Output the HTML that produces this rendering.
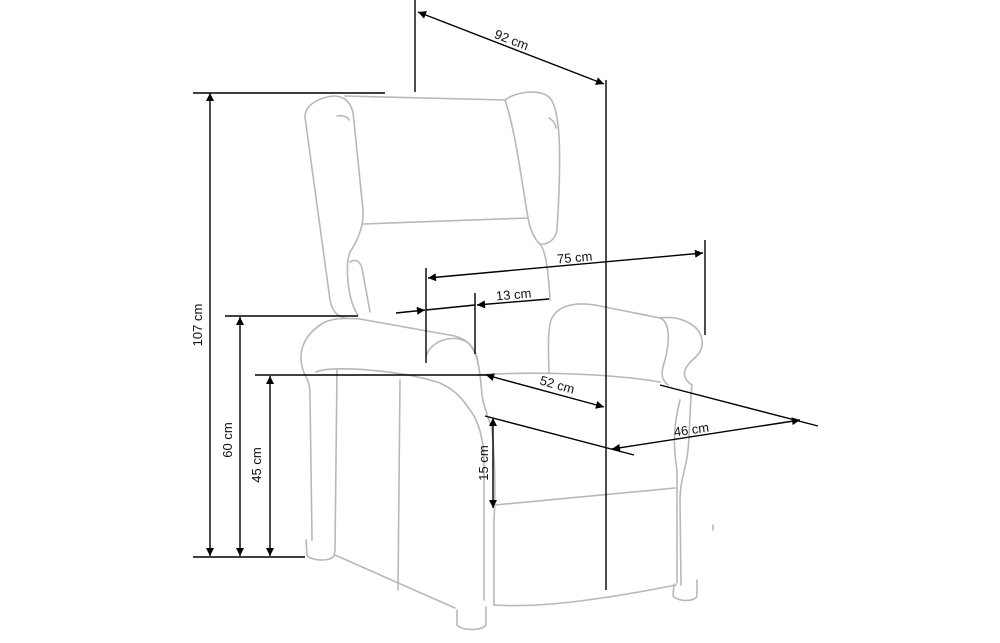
<!DOCTYPE html>
<html><head><style>
html,body{margin:0;padding:0;background:#fff;}
svg{display:block;}
text{font-family:"Liberation Sans",sans-serif;font-size:13px;fill:#111;}
</style></head><body>
<svg width="1000" height="643" viewBox="0 0 1000 643" xmlns="http://www.w3.org/2000/svg">
<defs>
<marker id="a" viewBox="0 0 10 10" refX="10" refY="5" markerWidth="11" markerHeight="8" orient="auto-start-reverse" markerUnits="userSpaceOnUse">
<path d="M0,0 L10,5 L0,10 z" fill="#000"/></marker>
</defs>
<g fill="none" stroke="#b8b8b8" stroke-width="1.6" stroke-linecap="round" stroke-linejoin="round">
<path d="M333,96 C318,98 305,105 305,117 L330,300 C332,310 336,316 345,318"/>
<path d="M333,96 C345,96 350,102 353,112 L363,210 C364,225 358,240 350,252 C345,262 347,300 358,315"/>
<path d="M345,96 L505,100"/>
<path d="M337,116 C343,115 348,117 349,120"/>
<path d="M350,262 C356,258 360,262 362,268 L370,312"/>
<path d="M505,100 C515,92 540,88 550,98 C560,110 562,150 557,230 C555,240 548,245 540,244"/>
<path d="M505,100 C515,130 520,170 528,218 C530,230 535,240 540,244 C545,250 548,265 550,300"/>
<path d="M549,118 C552,120 555,122 556,128"/>
<path d="M363,224 L528,218"/>
<path d="M305,375 C296,355 302,335 325,322 C335,318 345,318 360,319 L455,336 C470,340 478,352 478,365"/>
<path d="M305,375 C308,380 310,385 310,395 L312,540"/>
<path d="M426,357 C430,340 455,333 468,343 C478,352 480,370 482,395 C484,410 490,420 492,430 C494,450 496,480 494,520 L494,605"/>
<path d="M316,372 C330,365 400,370 440,383 C455,390 462,398 470,410 C478,420 484,440 484,460 L484,600"/>
<path d="M337,370 L335,550"/>
<path d="M400,380 L398,590"/>
<path d="M552,318 C560,303 580,302 600,306 L660,318"/>
<path d="M660,318 C680,315 700,325 702,340 C704,355 690,360 688,365 C682,372 684,380 692,385"/>
<path d="M660,318 C670,322 670,340 665,360 C660,375 662,380 668,385"/>
<path d="M552,318 C548,325 548,345 549,372"/>
<path d="M692,385 C690,400 690,430 688,450 C686,470 680,480 680,500 L681,585"/>
<path d="M680,400 C675,420 672,440 677,470 L677,583"/>
<path d="M478,375 C520,372 600,372 660,382"/>
<path d="M495,505 L675,488"/>
<path d="M494,605 C540,608 600,600 676,585"/>
<path d="M335,555 L455,608"/>
<path d="M306,540 L307,555 C310,561 330,562 334,556 L335,550"/>
<path d="M457,610 L457,625 C462,631 482,631 486,625 L486,607"/>
<path d="M674,584 L673,596 C678,602 695,602 697,596 L697,580"/>
<path d="M713,525 L713,530"/>
</g>
<g stroke="#000" stroke-width="1.4" fill="none">
<line x1="415" y1="0" x2="415" y2="92"/>
<line x1="606" y1="80" x2="606" y2="590"/>
<line x1="418" y1="12" x2="604" y2="84" marker-start="url(#a)" marker-end="url(#a)"/>
<line x1="193" y1="93" x2="385" y2="93"/>
<line x1="210" y1="93" x2="210" y2="556" marker-start="url(#a)" marker-end="url(#a)"/>
<line x1="193" y1="557" x2="305" y2="557"/>
<line x1="225" y1="316" x2="358" y2="316"/>
<line x1="240" y1="317" x2="240" y2="556" marker-start="url(#a)" marker-end="url(#a)"/>
<line x1="255" y1="375" x2="490" y2="375"/>
<line x1="270" y1="376" x2="270" y2="556" marker-start="url(#a)" marker-end="url(#a)"/>
<line x1="426" y1="268" x2="426" y2="363"/>
<line x1="705" y1="240" x2="705" y2="335"/>
<line x1="428" y1="278" x2="703" y2="253" marker-start="url(#a)" marker-end="url(#a)"/>
<line x1="475" y1="293" x2="475" y2="354"/>
<line x1="396" y1="313" x2="425" y2="310" marker-end="url(#a)"/>
<line x1="426" y1="310" x2="475" y2="305"/>
<line x1="549" y1="299" x2="477" y2="305" marker-end="url(#a)"/>
<line x1="486" y1="375" x2="604" y2="407" marker-start="url(#a)" marker-end="url(#a)"/>
<line x1="485" y1="416" x2="634" y2="455"/>
<line x1="660" y1="385" x2="818" y2="426"/>
<line x1="612" y1="449" x2="800" y2="420" marker-start="url(#a)" marker-end="url(#a)"/>
<line x1="493" y1="418" x2="493" y2="508" marker-start="url(#a)" marker-end="url(#a)"/>
</g>
<text x="510" y="44" transform="rotate(21 510 44)" text-anchor="middle">92 cm</text>
<text x="202" y="325" transform="rotate(-90 202 325)" text-anchor="middle">107 cm</text>
<text x="232" y="440" transform="rotate(-90 232 440)" text-anchor="middle">60 cm</text>
<text x="261" y="465" transform="rotate(-90 261 465)" text-anchor="middle">45 cm</text>
<text x="575" y="262" transform="rotate(-5 575 262)" text-anchor="middle">75 cm</text>
<text x="514" y="299" transform="rotate(-5 514 299)" text-anchor="middle">13 cm</text>
<text x="556" y="389" transform="rotate(16 556 389)" text-anchor="middle">52 cm</text>
<text x="692" y="434" transform="rotate(-8 692 434)" text-anchor="middle">46 cm</text>
<text x="488" y="463" transform="rotate(-90 488 463)" text-anchor="middle">15 cm</text>
</svg>
</body></html>
